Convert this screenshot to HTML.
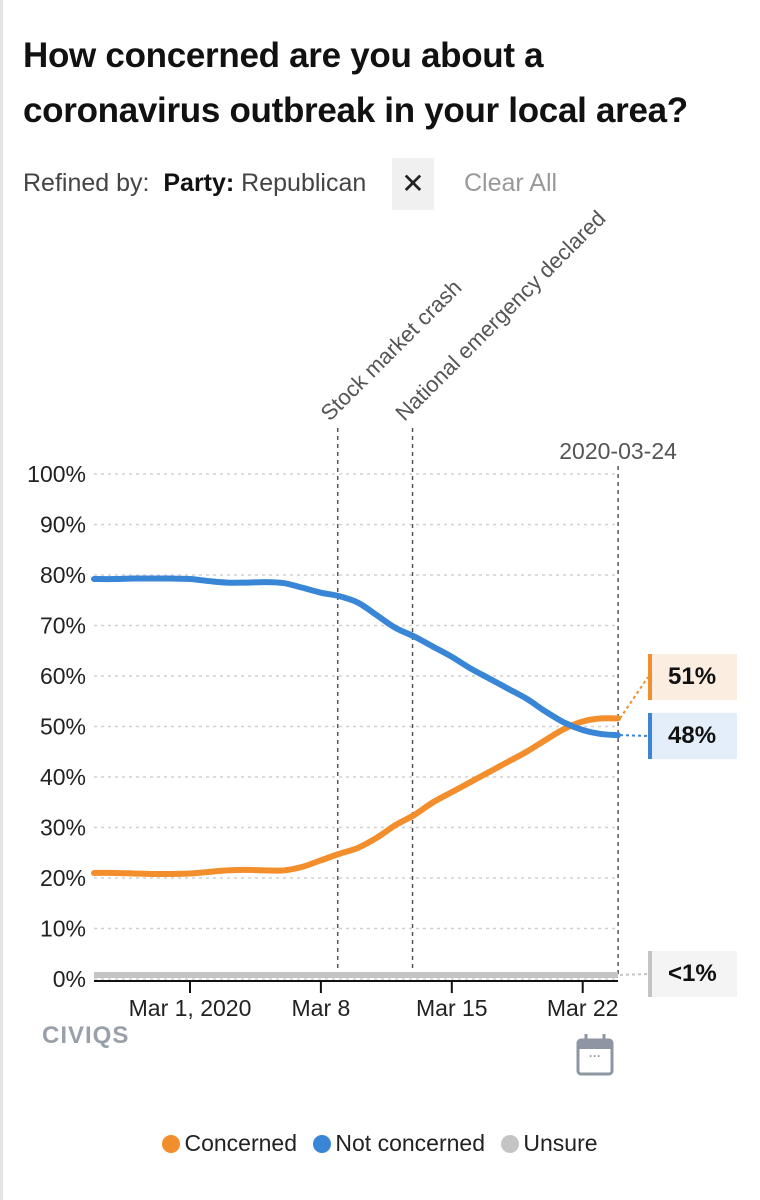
<!DOCTYPE html>
<html><head><meta charset="utf-8"><style>
html,body{margin:0;padding:0;background:#fff;}
body{width:760px;height:1200px;position:relative;overflow:hidden;font-family:"Liberation Sans",sans-serif;}
.edge{position:absolute;left:0;top:0;width:3px;height:1200px;background:#e4e4e4;}
h1{position:absolute;left:23px;top:28px;margin:0;font-size:35px;line-height:55px;font-weight:bold;color:#111;letter-spacing:-0.3px;}
.refined{position:absolute;left:23px;top:169px;font-size:25px;color:#444;}
.refined b{color:#111;}
.xbox{position:absolute;left:392px;top:158px;width:42px;height:52px;background:#f0f0f0;font-size:28px;text-align:center;line-height:52px;color:#222;}
.clear{position:absolute;left:464px;top:169px;font-size:25px;color:#999;}
.vl{position:absolute;left:648px;width:85px;height:46px;font-size:24px;font-weight:bold;line-height:46px;text-indent:16px;color:#111;}
.legend{position:absolute;top:1130px;left:0;width:760px;text-align:center;font-size:23px;color:#222;}
.legend span{margin:0 5px;}
.dot{display:inline-block;width:18px;height:18px;border-radius:50%;vertical-align:-2px;margin-right:4px;}
</style></head><body>
<div class="edge"></div>
<h1>How concerned are you about a<br>coronavirus outbreak in your local area?</h1>
<div class="refined">Refined by:&nbsp; <b>Party:</b> Republican</div>
<div class="xbox">✕</div>
<div class="clear">Clear All</div>
<svg id="chart" width="760" height="1200" style="position:absolute;left:0;top:0"></svg>
<div class="vl" style="top:654px;background:#fbeee0;border-left:4px solid #f28e2b">51%</div>
<div class="vl" style="top:713px;background:#e3eefa;border-left:4px solid #3a86d6">48%</div>
<div class="vl" style="top:951px;background:#f4f4f4;border-left:4px solid #c4c4c4">&lt;1%</div>
<div class="legend">
<span><i class="dot" style="background:#f28e2b"></i>Concerned</span>
<span><i class="dot" style="background:#3a86d6"></i>Not concerned</span>
<span><i class="dot" style="background:#c4c4c4"></i>Unsure</span>
</div>
<script>
const days=[-5,-4,-3,-2,-1,0,1,2,3,4,5,6,7,8,9,10,11,12,13,14,15,16,17,18,19,20,21,22,23];
const concerned=[21,21,20.9,20.8,20.8,20.9,21.2,21.5,21.6,21.5,21.5,22.2,23.5,24.8,26,28,30.5,32.5,35,37,39,41,43,45,47.3,49.5,51,51.6,51.6];
const notConcerned=[79.2,79.2,79.3,79.3,79.3,79.2,78.8,78.5,78.5,78.6,78.4,77.5,76.5,75.8,74.5,72,69.5,67.8,65.8,63.8,61.5,59.5,57.5,55.5,53,50.8,49.3,48.5,48.3];
const unsure=[0.8,0.8,0.8,0.8,0.8,0.8,0.8,0.8,0.8,0.8,0.8,0.8,0.8,0.8,0.8,0.8,0.8,0.8,0.8,0.8,0.8,0.8,0.8,0.8,0.8,0.8,0.8,0.8,0.8];
const yTicks=[0,10,20,30,40,50,60,70,80,90,100];
const xTickDays=[0,7,14,21];
const xTickLabels=["Mar 1, 2020","Mar 8","Mar 15","Mar 22"];
const events=[7.9,11.9];
const eventLabels=["Stock market crash","National emergency declared"];
const lastDay=23;
const X=d=>190+d*18.7, Y=v=>979-v*5.05;
const svg=document.getElementById('chart'),NS='http://www.w3.org/2000/svg';
function mk(t,a,p){const e=document.createElementNS(NS,t);for(const k in a)e.setAttribute(k,a[k]);(p||svg).appendChild(e);return e;}
yTicks.forEach(v=>{
 const g=mk('line',{x1:94,x2:618,y1:Y(v),y2:Y(v),stroke:'#d0d0d0','stroke-width':1.5,'stroke-dasharray':'3 4'});
 
 
 const t=mk('text',{x:86,y:Y(v)+8,'text-anchor':'end','font-size':23,fill:'#222'});t.textContent=v+'%';
 
 
});
const ax=mk('line',{x1:94,x2:618,y1:981,y2:981,stroke:'#111','stroke-width':2});


xTickDays.forEach((d,i)=>{
 const l=mk('line',{x1:X(d),x2:X(d),y1:981,y2:993,stroke:'#111','stroke-width':2});
 
 
 const t=mk('text',{x:X(d),y:1016,'text-anchor':'middle','font-size':23,fill:'#222'});t.textContent=xTickLabels[i];
 
 
});
events.forEach((d,i)=>{
 const l=mk('line',{x1:X(d),x2:X(d),y1:428,y2:978,stroke:'#555','stroke-width':1.5,'stroke-dasharray':'4 4'});
 
 
 const t=mk('text',{x:X(d)-8,y:422,'font-size':22,fill:'#555',transform:`rotate(-45 ${X(d)-8} 422)`});t.textContent=eventLabels[i];
 
 
});
const ll=mk('line',{x1:X(lastDay)-2,x2:X(lastDay)-2,y1:466,y2:978,stroke:'#555','stroke-width':1.5,'stroke-dasharray':'4 4'});


const dt=mk('text',{x:X(lastDay)-2,y:459,'text-anchor':'middle','font-size':23,fill:'#555'});dt.textContent='2020-03-24';


function path(vals){
 const p=days.map((d,i)=>[X(d),Y(vals[i])]);p[0][0]=94;p[p.length-1][0]=618;
 let s=`M${p[0][0]},${p[0][1]}`;
 for(let i=0;i<p.length-1;i++){const a=p[Math.max(0,i-1)],b=p[i],c=p[i+1],e=p[Math.min(p.length-1,i+2)];
  s+=` C${b[0]+(c[0]-a[0])/6},${b[1]+(c[1]-a[1])/6} ${c[0]-(e[0]-b[0])/6},${c[1]-(e[1]-b[1])/6} ${c[0]},${c[1]}`;}
 return s;
}
const u=mk('path',{d:path(unsure),fill:'none',stroke:'#c4c4c4','stroke-width':6});


const c=mk('path',{d:path(concerned),fill:'none',stroke:'#f28e2b','stroke-width':6,'stroke-linecap':'round'});


const n=mk('path',{d:path(notConcerned),fill:'none',stroke:'#3a86d6','stroke-width':6,'stroke-linecap':'round'});


[[concerned,'#f28e2b',677],[notConcerned,'#3a86d6',736],[unsure,'#c4c4c4',974]].forEach(([v,col,ty])=>{
 const l=mk('line',{x1:620,y1:Y(v[v.length-1]),x2:648,y2:ty,stroke:col,'stroke-width':2,'stroke-dasharray':'3 3'});
 
 
});
const logo=mk('text',{x:42,y:1043,'font-size':24,'font-weight':'bold',fill:'#9aa0aa','letter-spacing':1});logo.textContent='CIVIQS';


const cal=mk('g',{});


mk('rect',{x:578,y:1040,width:34,height:34,rx:3,fill:'none',stroke:'#8e95a3','stroke-width':3},cal);
mk('rect',{x:578,y:1040,width:34,height:9,fill:'#8e95a3'},cal);
mk('line',{x1:586,x2:586,y1:1034,y2:1042,stroke:'#8e95a3','stroke-width':3},cal);
mk('line',{x1:604,x2:604,y1:1034,y2:1042,stroke:'#8e95a3','stroke-width':3},cal);
mk('text',{x:595,y:1060,'text-anchor':'middle','font-size':12,'font-weight':'bold',fill:'#8e95a3'},cal).textContent='···';
</script>
</body></html>
